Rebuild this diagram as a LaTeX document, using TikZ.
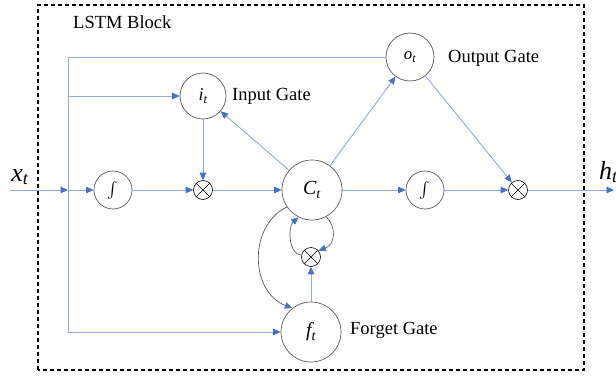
\documentclass[tikz,border=0pt]{standalone}
\usepackage{graphicx}
\usepackage{fontspec}
\setmainfont{Liberation Serif}
\usetikzlibrary{arrows.meta}
\definecolor{linkblue}{HTML}{8EA9DB}
\definecolor{tipblue}{HTML}{4472C4}
\definecolor{ringgray}{HTML}{595959}

\tikzset{
  flow/.style={draw=linkblue, line width=0.9pt, -{Triangle[length=7.5pt,width=6.5pt,color=tipblue]}},
  plain/.style={draw=linkblue, line width=0.9pt},
  curl/.style={draw=ringgray, line width=0.7pt, -{Triangle[length=7.5pt,width=6.5pt,color=tipblue]}},
  unit/.style={circle, draw=ringgray, line width=0.7pt, inner sep=0pt, minimum size=#1},
  mult/.style={circle, draw=black, line width=0.6pt, inner sep=0pt, minimum size=19pt},
  lbl/.style={font=\fontsize{18.5}{20}\selectfont, anchor=west, inner sep=0pt},
}
\newcommand{\ivar}[3]{{\fontsize{#1}{#1}\selectfont\itshape #2\textsubscript{#3}}}
% squashing function symbol (integral sign, scaled up)
\newcommand{\sq}{\scalebox{1.6}{$\int$}}

\begin{document}
\begin{tikzpicture}[x=1pt,y=1pt]
  \useasboundingbox (0,0) rectangle (616,376);

  % block frame
  \draw[line width=1.5pt, dash pattern=on 4pt off 3pt] (38,6) rectangle (584,371);
  \node[lbl] (title) at (73,354) {LSTM Block};

  % cells
  \node[unit=38pt] (s1) at (113,186) {\sq};
  \node[mult] (m1) at (203,186) {};
  \node[unit=60pt] (C) at (312,186) {\ivar{20}{C}{t}};
  \node[unit=38pt] (s2) at (425,186) {\sq};
  \node[mult] (m2) at (518,186) {};
  \node[unit=46pt] (i) at (203,280) {\ivar{18}{i}{t}};
  \node[unit=48pt] (o) at (410,319) {\ivar{17}{o}{t}};
  \node[mult] (m3) at (311,119) {};
  \node[unit=60pt] (f) at (311,44) {\ivar{20}{f}{t}};

  % cross marks of the multipliers
  \foreach \m in {m1,m2,m3} {
    \draw[line width=0.6pt] (\m.45) -- (\m.225) (\m.135) -- (\m.315);
  }

  % gate captions
  \node[lbl] (ig) at (232,280) {Input Gate};
  \node[lbl] (og) at (448,318) {Output Gate};
  \node[lbl] (fg) at (350,46) {Forget Gate};

  % input / output terminals
  \coordinate (xin) at (10,186);
  \coordinate (xout) at (614,186);
  \coordinate (j) at (68,186);
  \coordinate (jtop) at (68,319);
  \coordinate (jmid) at (68,280);
  \coordinate (jbot) at (68,44);
  \node[font=\fontsize{26}{26}\selectfont\itshape, inner sep=0pt] (xl) at (20,199) {x\textsubscript{t}};
  \node[font=\fontsize{26}{26}\selectfont\itshape, inner sep=0pt, anchor=west] (hl) at (599,204) {h\textsubscript{t}};

  % input distribution
  \draw[flow] (xin) -- (j);
  \draw[plain] (jtop) -- (jbot);
  \draw[plain] (jtop) -- (o);
  \draw[flow] (jmid) -- (i);
  \draw[flow] (jbot) -- (f);

  % main path
  \draw[flow] (j) -- (s1);
  \draw[flow] (s1) -- (m1);
  \draw[flow] (m1) -- (C);
  \draw[flow] (C) -- (s2);
  \draw[flow] (s2) -- (m2);
  \draw[flow] (m2) -- (xout);

  % gate links
  \draw[flow] (i) -- (m1);
  \draw[flow] (C) -- (i);
  \draw[flow] (C) -- (o);
  \draw[flow] (o) -- (m2);
  \draw[flow] (f) -- (m3);

  % cell state loops
  \draw[curl] (C.298) .. controls (336,150) and (336,132) .. (m3.40);
  \draw[curl] (m3.170) .. controls (288,122) and (288,150) .. (C.244);
  \draw[curl] (C.214) .. controls (248,150) and (250,84) .. (f.128);
\end{tikzpicture}
\end{document}
